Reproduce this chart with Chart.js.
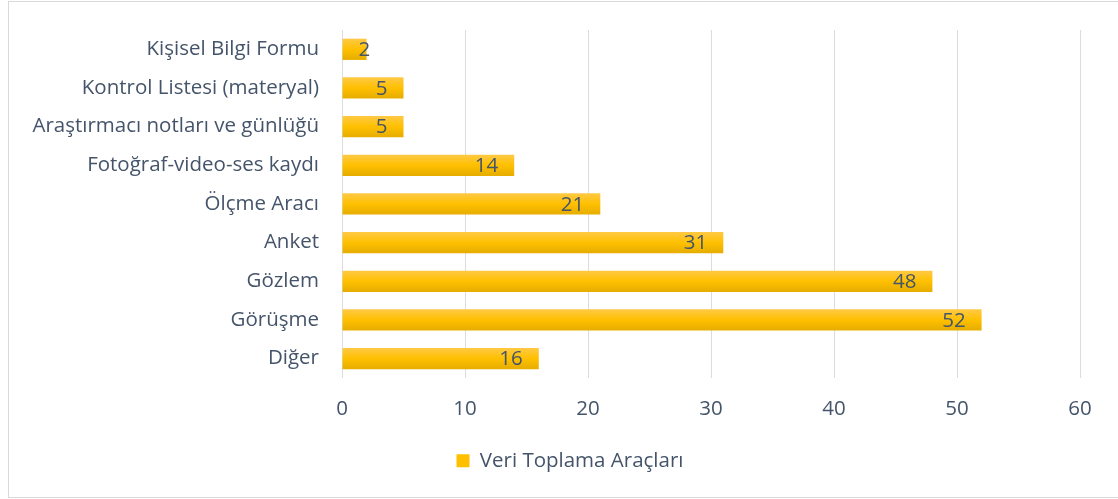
<!DOCTYPE html>
<html>
<head>
<meta charset="utf-8">
<script src="https://cdn.jsdelivr.net/npm/chart.js@4/dist/chart.umd.min.js"></script>
<style>
    body { margin: 0; background: #fff; }
    #wrap { position: absolute; left: 0; top: 0; width: 1118px; height: 499px; }
</style>
</head>
<body>
<div id="wrap"><canvas id="chart" width="1118" height="499"></canvas></div>
<script>
const categories = ['Kişisel Bilgi Formu', 'Kontrol Listesi (materyal)', 'Araştırmacı notları ve günlüğü',
    'Fotoğraf-video-ses kaydı', 'Ölçme Aracı', 'Anket', 'Gözlem', 'Görüşme', 'Diğer'];
const values = [2, 5, 5, 14, 21, 31, 48, 52, 16];
const seriesName = 'Veri Toplama Araçları';
const xTicks = [0, 10, 20, 30, 40, 50, 60];

const textColor = '#44546a';
const fontFamily = '"Open Sans", "Noto Sans", sans-serif';
const fontSize = 20.5;

function barGradient(context) {
    const chart = context.chart;
    const yScale = chart.scales.y;
    if (!chart.chartArea || !yScale) return '#ffc000';
    const cy = yScale.getPixelForValue(context.dataIndex);
    if (!Number.isFinite(cy)) return '#ffc000';
    const h = 21;
    const g = chart.ctx.createLinearGradient(0, cy - h / 2, 0, cy + h / 2);
    g.addColorStop(0, '#ffc945');
    g.addColorStop(0.5, '#ffc000');
    g.addColorStop(1, '#e6ad00');
    return g;
}

// border round the chart
const frame = {
    id: 'frame',
    beforeDraw(chart) {
        const ctx = chart.ctx;
        ctx.save();
        ctx.strokeStyle = '#d9d9d9';
        ctx.lineWidth = 1;
        ctx.strokeRect(8.5, 1.5, 1120, 496);
        ctx.restore();
    }
};

// the legend sits centred on the whole frame, not on the padded area
const legendShift = {
    id: 'legendShift',
    afterLayout(chart) {
        if (!chart.legend) return;
        chart.legend.left += 25;
        chart.legend.right += 25;
    }
};

// value labels, inside end
const valueLabels = {
    id: 'valueLabels',
    afterDatasetsDraw(chart) {
        const ctx = chart.ctx;
        ctx.save();
        ctx.font = fontSize + 'px ' + fontFamily;
        ctx.fillStyle = textColor;
        ctx.textAlign = 'right';
        ctx.textBaseline = 'middle';
        chart.getDatasetMeta(0).data.forEach((bar, i) => {
            const txt = String(values[i]);
            const w = ctx.measureText(txt).width;
            const x = Math.max(bar.x - 16, bar.base + 16 + w);
            ctx.fillText(txt, x, bar.y + 1);
        });
        ctx.restore();
    }
};

new Chart(document.getElementById('chart'), {
    type: 'bar',
    data: {
        labels: categories,
        datasets: [{
            label: seriesName,
            data: values,
            backgroundColor: barGradient,
            barPercentage: 0.55,
            categoryPercentage: 1
        }]
    },
    options: {
        indexAxis: 'y',
        responsive: false,
        animation: false,
        layout: { padding: { left: 10, right: 38, top: 30, bottom: 18 } },
        scales: {
            x: {
                min: 0,
                max: 60,
                afterBuildTicks(scale) { scale.ticks = xTicks.map(v => ({value: v})); },
                grid: { color: '#d9dde3', drawTicks: false },
                border: { display: false },
                ticks: { color: textColor, font: { family: fontFamily, size: fontSize }, padding: 19 }
            },
            y: {
                afterFit(scale) {
                    scale.width = 332;
                    scale.paddingTop = 0;
                    scale.paddingBottom = 0;
                },
                grid: { display: false, drawTicks: false },
                border: { color: '#d9dde3' },
                ticks: { color: textColor, font: { family: fontFamily, size: fontSize }, padding: 23 }
            }
        },
        plugins: {
            legend: {
                position: 'bottom',
                labels: {
                    color: textColor,
                    font: { family: fontFamily, size: fontSize },
                    boxWidth: 13,
                    boxHeight: 13,
                    padding: 10,
                    generateLabels: () => [{ text: seriesName, fillStyle: '#ffc000', strokeStyle: '#ffc000', lineWidth: 0, fontColor: textColor }]
                }
            },
            tooltip: { enabled: false }
        }
    },
    plugins: [frame, legendShift, valueLabels]
});
</script>
</body>
</html>
